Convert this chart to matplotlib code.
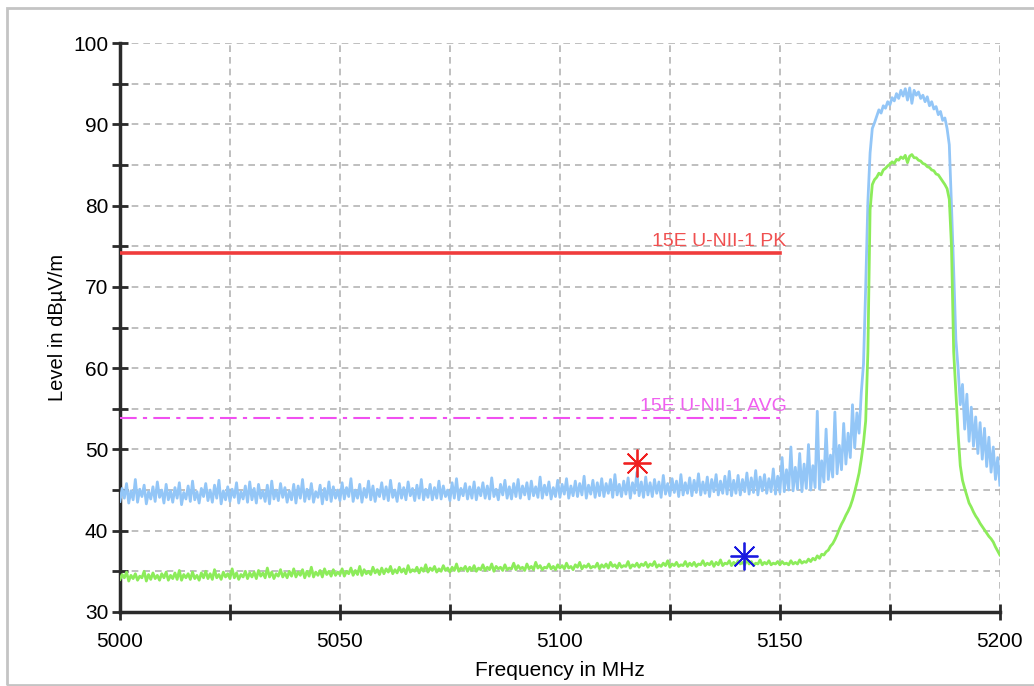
import numpy as np
import matplotlib
matplotlib.use("Agg")
import matplotlib.pyplot as plt
from matplotlib.patches import Rectangle

# sweep, 0.5 MHz steps from 5000 to 5200 MHz
freq = np.arange(5000, 5200.01, 0.5)

# peak trace (dBuV/m), one row per 10 MHz
peak = [
    43.6, 45.2, 44.0, 45.8, 43.4, 44.9, 43.8, 46.3, 43.5, 45.1, 44.2, 45.6, 43.3, 44.8, 43.9, 45.4, 43.6, 46.0, 44.1, 45.0,
    43.4, 45.7, 43.8, 44.9, 43.5, 45.3, 44.0, 45.9, 43.2, 44.7, 43.9, 45.5, 43.6, 46.1, 43.8, 44.8, 43.4, 45.2, 44.2, 45.8,
    43.7, 45.0, 43.5, 45.6, 44.0, 46.2, 43.3, 44.9, 43.8, 45.4, 43.6, 45.1, 44.1, 45.9, 43.4, 44.8, 43.9, 45.5, 43.5, 46.0,
    43.8, 45.2, 43.4, 45.7, 44.0, 44.9, 43.6, 45.6, 43.3, 46.1, 43.9, 45.0, 43.7, 45.8, 44.1, 45.3, 43.5, 44.9, 43.8, 45.7,
    43.4, 45.5, 44.0, 46.3, 43.6, 45.1, 43.9, 45.8, 43.5, 44.8, 44.1, 45.6, 43.3, 45.2, 43.8, 46.0, 43.6, 45.4, 44.0, 45.0,
    43.7, 45.9, 43.9, 45.3, 44.2, 46.4, 43.6, 45.0, 44.0, 45.7, 43.5, 45.2, 44.1, 46.1, 43.8, 45.5, 43.6, 45.1, 44.2, 45.9,
    43.9, 45.4, 43.7, 46.2, 44.1, 45.0, 43.6, 45.8, 44.0, 45.3, 43.8, 46.0, 44.3, 45.2, 43.7, 45.6, 44.0, 46.3, 43.8, 45.1,
    44.1, 45.7, 43.8, 45.3, 44.0, 46.1, 43.9, 45.5, 44.2, 45.0, 43.7, 45.9, 44.0, 46.4, 43.8, 45.2, 44.3, 45.8, 43.9, 45.4,
    44.0, 46.0, 43.8, 45.3, 44.3, 45.9, 44.0, 45.5, 43.9, 46.5, 44.2, 45.1, 43.8, 45.7, 44.4, 46.2, 44.0, 45.4, 43.9, 45.8,
    44.2, 46.3, 44.0, 45.5, 44.4, 45.9, 43.9, 46.1, 44.3, 45.4, 44.1, 46.6, 44.0, 45.6, 44.4, 46.0, 43.9, 45.3, 44.2, 46.2,
    44.1, 45.7, 44.5, 46.4, 44.0, 45.5, 44.3, 46.1, 44.2, 45.8, 44.4, 46.7, 44.0, 45.6, 44.5, 46.2, 44.1, 45.9, 44.3, 46.4,
    44.2, 45.8, 44.6, 46.3, 44.1, 46.9, 44.4, 45.7, 44.2, 46.1, 44.5, 46.5, 44.0, 45.9, 44.6, 47.2, 44.3, 46.0, 44.1, 46.6,
    44.4, 45.9, 44.2, 46.3, 44.6, 46.0, 44.1, 46.8, 44.5, 45.8, 44.3, 46.4, 44.7, 46.1, 44.2, 46.9, 44.4, 45.9, 44.6, 46.5,
    44.3, 46.2, 44.7, 47.0, 44.4, 46.0, 44.6, 46.6, 44.2, 46.3, 44.8, 46.9, 44.4, 46.1, 44.6, 46.7, 44.5, 47.3, 44.3, 46.2,
    44.6, 46.8, 44.4, 46.3, 44.8, 47.1, 44.5, 46.5, 44.7, 47.4, 44.4, 46.6, 44.9, 46.9, 44.6, 46.4, 44.8, 47.6, 44.5, 46.7,
    44.7, 49.0, 44.8, 47.5, 45.0, 50.3, 44.9, 47.8, 45.1, 49.5, 44.8, 48.2, 45.2, 50.6, 45.0, 48.0, 45.3, 54.7, 45.1, 48.6,
    46.0, 52.5, 46.3, 49.3, 46.6, 54.6, 47.0, 50.5, 47.5, 53.2, 48.2, 52.0, 49.0, 55.5, 50.2, 54.5, 52.0, 57.0, 60.5, 70.0,
    80.5, 86.5, 89.5, 90.2, 91.0, 91.8, 91.4, 92.3, 92.0, 92.8, 92.4, 93.3, 92.9, 93.8, 93.2, 94.2, 93.5, 94.4, 93.0, 94.5,
    92.6, 94.2, 93.6, 94.0, 93.2, 93.6, 92.8, 93.4, 92.3, 92.8, 91.9, 92.2, 91.2, 91.6, 90.5, 90.8, 89.5, 87.5, 80.0, 72.0,
    63.5, 60.0, 55.5, 58.0, 52.5, 56.8, 51.0, 55.2, 50.4, 54.0, 49.5, 53.3, 48.8, 52.6, 47.9, 51.5, 47.2, 50.3, 46.3, 49.0,
    45.6,
]

# average trace (dBuV/m)
avg = [
    34.0, 34.6, 34.2, 34.9, 33.8, 34.5, 34.1, 34.7, 33.9, 34.4, 34.2, 35.0, 33.8, 34.6, 34.0, 34.8, 34.1, 34.5, 33.9, 34.7,
    34.2, 34.9, 33.9, 34.5, 34.1, 34.8, 34.0, 35.1, 33.9, 34.6, 34.2, 34.7, 34.0, 34.9, 34.1, 34.5, 33.9, 34.8, 34.2, 35.0,
    34.1, 34.7, 34.0, 35.2, 34.2, 34.6, 34.0, 34.9, 34.3, 34.7, 34.1, 35.3, 34.2, 34.8, 34.0, 34.6, 34.3, 35.0, 34.1, 34.8,
    34.3, 34.9, 34.1, 35.1, 34.4, 34.8, 34.2, 35.4, 34.3, 34.9, 34.1, 34.7, 34.4, 35.2, 34.3, 34.8, 34.2, 35.0, 34.4, 35.3,
    34.3, 34.9, 34.5, 35.2, 34.2, 35.0, 34.4, 35.5, 34.3, 34.9, 34.5, 35.1, 34.3, 35.3, 34.6, 35.0, 34.4, 35.2, 34.5, 34.9,
    34.6, 35.3, 34.4, 35.0, 34.7, 35.4, 34.5, 35.1, 34.6, 35.6, 34.5, 35.2, 34.7, 35.0, 34.6, 35.5, 34.8, 35.2, 34.6, 35.4,
    34.7, 35.3, 34.9, 35.6, 34.7, 35.2, 34.8, 35.5, 34.9, 35.3, 34.7, 35.7, 34.9, 35.2, 35.0, 35.5, 34.8, 35.4, 35.0, 35.8,
    34.9, 35.4, 35.1, 35.6, 34.9, 35.3, 35.0, 35.7, 35.1, 35.4, 34.9, 35.5, 35.1, 35.9, 35.0, 35.4, 35.2, 35.6, 35.0, 35.5,
    35.1, 35.7, 35.0, 35.4, 35.2, 35.8, 35.1, 35.5, 35.2, 35.9, 35.0, 35.6, 35.3, 35.5, 35.1, 35.8, 35.2, 35.4, 35.3, 36.0,
    35.2, 35.7, 35.3, 35.5, 35.1, 35.9, 35.3, 35.6, 35.2, 36.1, 35.4, 35.7, 35.2, 35.5, 35.4, 35.9, 35.3, 35.6, 35.2, 35.8,
    35.4, 35.7, 35.3, 36.0, 35.4, 35.6, 35.2, 35.8, 35.5, 36.1, 35.3, 35.7, 35.5, 35.9, 35.4, 35.6, 35.5, 36.0, 35.3, 35.8,
    35.5, 35.9, 35.4, 36.1, 35.6, 35.8, 35.4, 36.0, 35.5, 35.7, 35.6, 36.2, 35.4, 35.8, 35.6, 36.0, 35.5, 35.9, 35.7, 36.1,
    35.5, 35.9, 35.7, 36.2, 35.5, 35.8, 35.6, 36.0, 35.7, 36.3, 35.5, 35.9, 35.7, 36.1, 35.6, 35.8, 35.7, 36.2, 35.6, 36.0,
    35.7, 36.1, 35.6, 35.9, 35.8, 36.3, 35.7, 36.0, 35.8, 36.2, 35.6, 36.1, 35.8, 36.4, 35.7, 36.0, 35.9, 36.3, 35.7, 36.1,
    35.8, 36.3, 35.9, 36.1, 35.8, 36.5, 35.9, 36.2, 35.7, 36.0, 35.9, 36.4, 35.8, 36.1, 35.9, 36.3, 35.8, 36.0, 35.9, 36.2,
    35.8, 36.2, 35.9, 36.0, 35.8, 36.3, 35.9, 36.1, 35.9, 36.4, 36.0, 36.2, 36.1, 36.5, 36.2, 36.6, 36.4, 36.9, 36.6, 37.1,
    37.0, 37.4, 37.6, 38.1, 38.4, 38.9, 39.5, 40.2, 40.8, 41.3, 41.9, 42.4, 43.0, 43.8, 44.8, 45.9, 47.1, 48.8, 50.8, 53.5,
    62.0, 79.5, 82.6, 83.2, 83.5, 84.0, 83.8, 84.4, 84.6, 84.9, 85.1, 85.4, 85.2, 85.7, 85.6, 86.0, 85.8, 86.2, 85.3, 86.1,
    86.3, 85.9, 85.9, 85.6, 85.5, 85.2, 85.1, 84.8, 84.7, 84.4, 84.3, 83.9, 83.8, 83.4, 83.0, 82.6, 82.1, 80.8, 75.0, 62.0,
    57.0, 52.0, 48.0, 46.2, 45.2, 44.3, 43.4, 42.9, 42.3, 41.8, 41.4, 40.9, 40.5, 40.1, 39.7, 39.3, 39.0, 38.6, 38.0, 37.5,
    37.0,
]

# limit lines
limit_x = [5000, 5150]
pk_limit = 74.2
avg_limit = 53.9
pk_label = "15E U-NII-1 PK"
avg_label = "15E U-NII-1 AVG"

# final measurement markers
pk_marker = (5117.6, 48.3)
avg_marker = (5141.8, 36.9)

plt.rcParams['font.family'] = ['Liberation Sans', 'DejaVu Sans']

fig = plt.figure(figsize=(10.34, 6.86), dpi=100)
ax = fig.add_axes([0.116, 0.108, 0.851, 0.829])

# light frame round the picture (left, top and bottom edges show)
fig.patches.append(Rectangle((0.007, 0.002), 1.0, 0.986, transform=fig.transFigure,
                             fill=False, edgecolor='#c4c4c4', lw=2))

ax.plot(limit_x, [pk_limit, pk_limit], color='#f03c3c', lw=2.6, zorder=3)
ax.plot(limit_x, [avg_limit, avg_limit], color='#f050f0', lw=1.5,
        dashes=(8, 3, 2, 3), zorder=3)
ax.text(limit_x[1] + 1.5, pk_limit + 0.3, pk_label, color='#f05050', fontsize=14,
        ha='right', va='bottom')
ax.text(limit_x[1] + 1.5, avg_limit + 0.3, avg_label, color='#f060f0', fontsize=14,
        ha='right', va='bottom')

ax.plot(freq, peak, color='#93c6f7', lw=2.0, zorder=4)
ax.plot(freq, avg, color='#8cec5a', lw=2.0, zorder=5)

ax.plot(*pk_marker, marker=(8, 2, 0), color='#f02020', markersize=20, mew=1.3, zorder=6)
ax.plot(*avg_marker, marker=(8, 2, 0), color='#1a1ae0', markersize=20, mew=1.3, zorder=6)

ax.set_xlim(5000, 5200)
ax.set_ylim(30, 100)
ax.set_xticks(np.arange(5000, 5201, 50))
ax.set_xticks(np.arange(5000, 5201, 25), minor=True)
ax.set_yticks(np.arange(30, 101, 10))
ax.set_yticks(np.arange(30, 101, 5), minor=True)

ax.grid(True, which='both', color='#b4b4b4', ls=(0, (4, 3)), lw=1.2)
ax.set_axisbelow(True)

for side in ['top', 'right']:
    ax.spines[side].set_visible(False)
for side in ['left', 'bottom']:
    ax.spines[side].set_linewidth(2.5)
    ax.spines[side].set_color('#2a2a2a')

ax.tick_params(which='both', direction='inout', length=11, width=2, color='#2a2a2a',
               labelsize=15)
ax.tick_params(axis='y', pad=3)
ax.tick_params(axis='x', pad=9)

ax.set_xlabel('Frequency in MHz', fontsize=15, labelpad=7)
ax.set_ylabel('Level in dBµV/m', fontsize=14.5, labelpad=4)

fig.savefig('out.png', dpi=100)
